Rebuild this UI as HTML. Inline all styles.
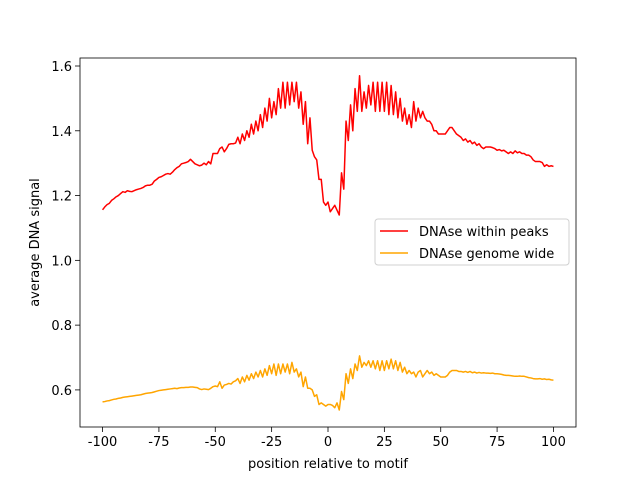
<!DOCTYPE html>
<html><head><meta charset="utf-8"><style>
body{margin:0;background:#fff}
text{font-family:"DejaVu Sans","Liberation Sans",sans-serif;font-size:13px;fill:#000}
</style></head><body>
<svg id="chart" width="640" height="480" xmlns="http://www.w3.org/2000/svg">
<rect width="640" height="480" fill="#fff"/>
<g id="plot"></g>
</svg>
<script>
const positions = Array.from({length:201},(_, i)=>i-100);
const peaksSignal = [1.156,1.165,1.172,1.176,1.185,1.19,1.196,1.2,1.206,1.212,
1.21,1.215,1.213,1.212,1.215,1.218,1.22,1.222,1.225,1.23,
1.232,1.232,1.235,1.245,1.25,1.256,1.258,1.262,1.266,1.268,
1.266,1.272,1.28,1.286,1.29,1.298,1.3,1.302,1.305,1.312,
1.305,1.298,1.295,1.292,1.294,1.30,1.295,1.305,1.298,1.33,
1.33,1.33,1.345,1.35,1.335,1.345,1.358,1.36,1.36,1.362,
1.38,1.36,1.39,1.37,1.40,1.38,1.42,1.39,1.43,1.40,
1.45,1.41,1.47,1.43,1.50,1.44,1.49,1.45,1.53,1.47,
1.55,1.47,1.55,1.48,1.55,1.49,1.55,1.47,1.52,1.42,
1.49,1.36,1.44,1.34,1.32,1.31,1.25,1.25,1.18,1.17,
1.18,1.15,1.16,1.17,1.155,1.14,1.27,1.22,1.43,1.37,
1.48,1.40,1.53,1.46,1.57,1.46,1.52,1.47,1.54,1.48,
1.55,1.46,1.55,1.46,1.55,1.46,1.55,1.45,1.54,1.45,
1.52,1.44,1.50,1.43,1.47,1.42,1.45,1.41,1.49,1.43,
1.47,1.44,1.46,1.44,1.43,1.43,1.42,1.40,1.40,1.39,
1.39,1.39,1.39,1.40,1.41,1.41,1.40,1.39,1.385,1.38,
1.37,1.375,1.365,1.37,1.36,1.365,1.355,1.36,1.35,1.345,
1.35,1.35,1.35,1.348,1.345,1.34,1.342,1.338,1.34,1.335,
1.33,1.335,1.33,1.338,1.332,1.335,1.33,1.33,1.325,1.325,
1.32,1.31,1.305,1.305,1.305,1.302,1.29,1.295,1.29,1.292,
1.29];
const genomeSignal = [.563,.564,.566,.567,.569,.571,.572,.574,.575,.577,
.578,.579,.58,.581,.582,.583,.584,.585,.587,.589,
.59,.591,.592,.594,.596,.598,.599,.6,.601,.602,
.603,.604,.605,.604,.606,.607,.607,.608,.608,.609,
.609,.608,.607,.603,.601,.603,.602,.601,.605,.61,
.612,.61,.625,.605,.615,.617,.62,.618,.625,.628,
.635,.62,.64,.625,.645,.63,.65,.635,.655,.64,
.66,.64,.665,.645,.675,.65,.68,.645,.68,.65,
.68,.655,.68,.65,.685,.655,.665,.64,.655,.61,
.64,.605,.605,.6,.58,.585,.555,.56,.555,.55,
.555,.555,.552,.545,.56,.538,.595,.57,.65,.62,
.665,.635,.68,.66,.705,.67,.685,.675,.69,.67,
.69,.665,.69,.66,.69,.66,.69,.665,.695,.665,
.69,.66,.685,.655,.67,.65,.66,.65,.655,.64,
.655,.66,.64,.65,.66,.65,.655,.645,.65,.645,
.64,.64,.64,.645,.655,.66,.66,.66,.657,.657,
.655,.657,.654,.657,.653,.655,.652,.654,.652,.653,
.652,.652,.651,.652,.65,.65,.649,.648,.646,.645,
.645,.644,.643,.642,.642,.643,.642,.642,.64,.638,
.637,.635,.634,.634,.635,.633,.634,.632,.633,.631,
.63];
const xTicks = [-100,-75,-50,-25,0,25,50,75,100];
const yTicks = [0.6,0.8,1.0,1.2,1.4,1.6];
const seriesNames = ["DNAse within peaks","DNAse genome wide"];

const L=80,R=576,T=58,B=427;
const xMin=-110,xMax=110,yMin=0.4855,yMax=1.6247;
const xs=v=>L+(v-xMin)/(xMax-xMin)*(R-L);
const ys=v=>B-(v-yMin)/(yMax-yMin)*(B-T);
const NS="http://www.w3.org/2000/svg";
const g=document.getElementById('plot');
function mk(tag,attrs,parent){const e=document.createElementNS(NS,tag);for(const k in attrs)e.setAttribute(k,attrs[k]);(parent||g).appendChild(e);return e;}

function drawLine(vals,color,name){
  const d=vals.map((v,i)=>(i?'L':'M')+xs(positions[i]).toFixed(2)+','+ys(v).toFixed(2)).join('');
  const p=mk('path',{d:d,fill:'none',stroke:color,'stroke-width':1.5,'stroke-linejoin':'round'});
  
  
}
drawLine(peaksSignal,'#ff0000','series-within-peaks');
drawLine(genomeSignal,'#ffa500','series-genome-wide');

const frame=mk('rect',{x:L,y:T,width:R-L,height:B-T,fill:'none',stroke:'#000','stroke-width':0.8});



xTicks.forEach(t=>{
  const x=xs(t);
  mk('line',{x1:x,x2:x,y1:B,y2:B+5,stroke:'#000','stroke-width':0.8});
  const tx=mk('text',{x:x,y:B+19,'text-anchor':'middle'});
  tx.textContent=String(t);
  
  
});
yTicks.forEach(t=>{
  const y=ys(t);
  mk('line',{x1:L-5,x2:L,y1:y,y2:y,stroke:'#000','stroke-width':0.8});
  const tx=mk('text',{x:L-8,y:y+5,'text-anchor':'end'});
  tx.textContent=t.toFixed(1);
  
  
});
const xl=mk('text',{x:(L+R)/2,y:468,'text-anchor':'middle'});
xl.textContent='position relative to motif';


const yl=mk('text',{x:0,y:0,'text-anchor':'middle',transform:'translate(39,'+((T+B)/2)+') rotate(-90)'});
yl.textContent='average DNA signal';



const leg=mk('g',{});


mk('rect',{x:375,y:219,width:194,height:46,rx:3,fill:'#fff',stroke:'#ccc','stroke-width':1,opacity:0.9},leg);
const colors=['#ff0000','#ffa500'];
seriesNames.forEach((n,i)=>{
  const y=231+i*22;
  const e=mk('g',{},leg);
  
  
  mk('line',{x1:380,x2:408,y1:y,y2:y,stroke:colors[i],'stroke-width':1.5},e);
  const t=mk('text',{x:419,y:y+5},e);
  t.textContent=n;
});
</script>
</body></html>
